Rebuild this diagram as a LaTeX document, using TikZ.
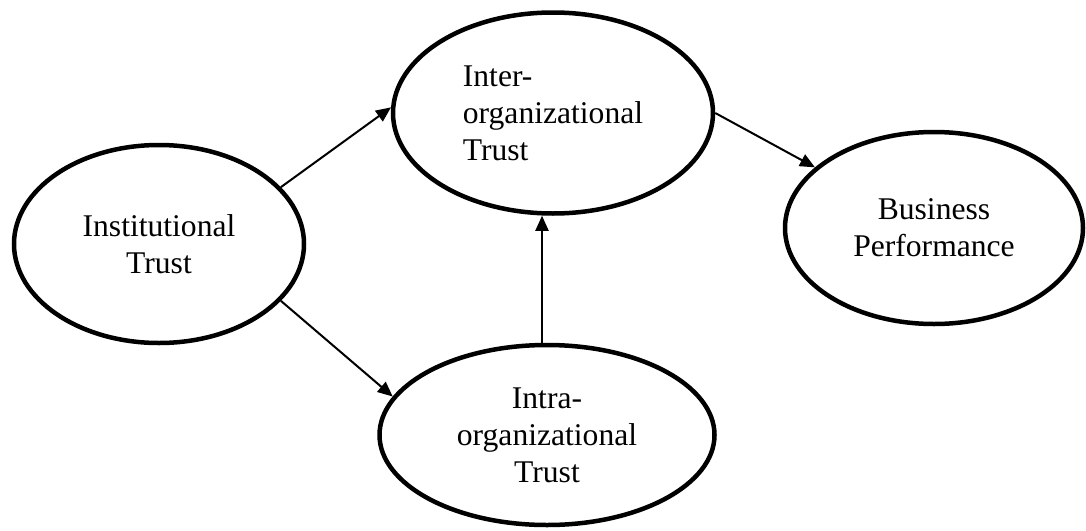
\documentclass[tikz,border=0pt]{standalone}
\usepackage{fontspec}
\setmainfont{Liberation Serif}
\usetikzlibrary{shapes.geometric,arrows.meta}
\begin{document}
\begin{tikzpicture}[x=1pt,y=-1pt,
  construct/.style={ellipse,draw,line width=4.5pt,inner sep=0pt,
    font=\fontsize{31.6}{37}\selectfont},
  link/.style={line width=2pt,-{Triangle[length=15pt,width=13pt]}}]
  \useasboundingbox (0,0) rectangle (1086,530);

  % constructs
  \node[construct,minimum width=290pt,minimum height=198pt,align=center]
    (inst) at (159,244) {Institutional\\Trust};
  \node[construct,minimum width=320pt,minimum height=201pt,align=left]
    (inter) at (553,113) {Inter-\\organizational\\Trust};
  \node[construct,minimum width=298pt,minimum height=192pt,align=center]
    (bus) at (934,228) {Business\\Performance};
  \node[construct,minimum width=335pt,minimum height=180pt,align=center]
    (intra) at (547,435) {Intra-\\organizational\\Trust};

  % paths
  \draw[link] (inst.25.6) -- (inter.178.2);
  \draw[link] (inst.-25.8) -- (intra.166.2);
  \draw[link] ([xshift=-5pt]intra.north) -- ([xshift=-5pt]intra.north |- inter.south);
  \draw[link] (inter.-0.7) -- (bus.153.1);
\end{tikzpicture}
\end{document}
